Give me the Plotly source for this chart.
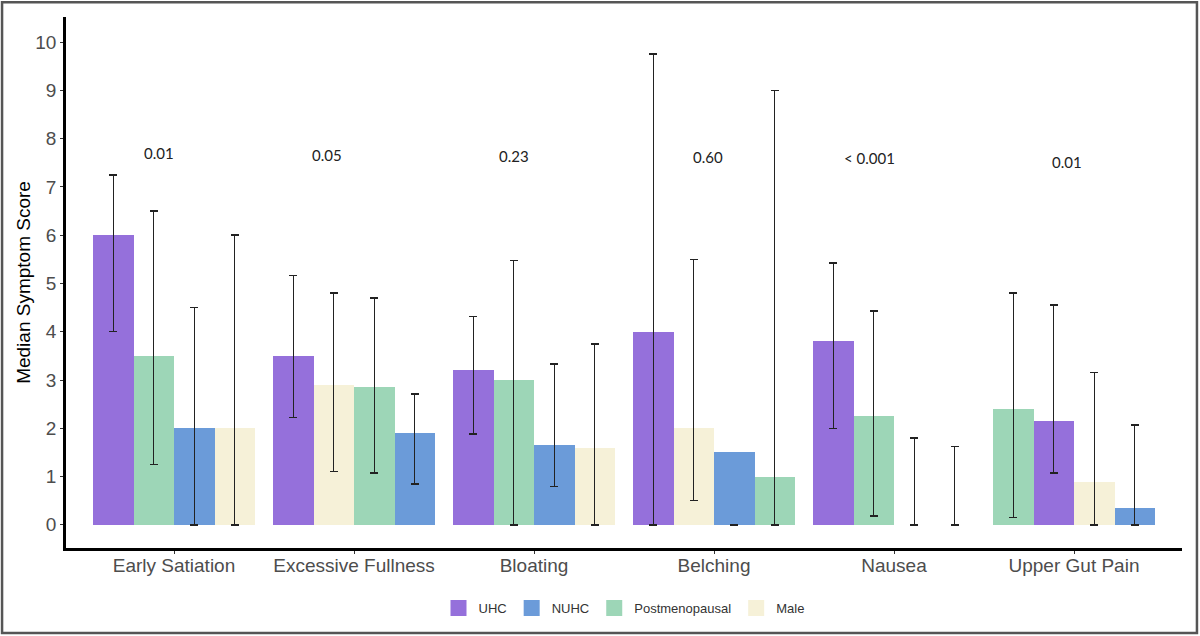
import plotly.graph_objects as go

categories = ["Early Satiation", "Excessive Fullness", "Bloating", "Belching", "Nausea", "Upper Gut Pain"]
series = ["UHC", "NUHC", "Postmenopausal", "Male"]

uhc_median = [6.0, 3.5, 3.2, 4.0, 3.8, 2.15]
uhc_low = [4.0, 2.22, 1.88, 0.0, 2.0, 1.07]
uhc_high = [7.25, 5.17, 4.32, 9.75, 5.42, 4.55]

nuhc_median = [2.0, 1.9, 1.65, 1.5, 0.0, 0.35]
nuhc_low = [0.0, 0.85, 0.8, 0.0, 0.0, 0.0]
nuhc_high = [4.5, 2.71, 3.33, 0.0, 1.8, 2.07]

post_median = [3.5, 2.85, 3.0, 1.0, 2.25, 2.4]
post_low = [1.25, 1.07, 0.0, 0.0, 0.18, 0.15]
post_high = [6.5, 4.7, 5.48, 9.0, 4.43, 4.8]

male_median = [2.0, 2.9, 1.6, 2.0, 0.0, 0.88]
male_low = [0.0, 1.1, 0.0, 0.5, 0.0, 0.0]
male_high = [6.0, 4.8, 3.75, 5.5, 1.62, 3.15]

p_values = ["0.01", "0.05", "0.23", "0.60", "< 0.001", "0.01"]

y_ticks = list(range(0, 11))

colors = {"UHC": "#9570db", "NUHC": "#6b9bd9", "Postmenopausal": "#9dd6b7", "Male": "#f6f1d8"}

medians = {"UHC": uhc_median, "NUHC": nuhc_median, "Postmenopausal": post_median, "Male": male_median}
lows = {"UHC": uhc_low, "NUHC": nuhc_low, "Postmenopausal": post_low, "Male": male_low}
highs = {"UHC": uhc_high, "NUHC": nuhc_high, "Postmenopausal": post_high, "Male": male_high}

# bars within each group are ordered by descending median (stable)
dodge = 0.9
n = len(series)
bw = dodge / n
positions = {s: [] for s in series}
for gi in range(len(categories)):
    order = sorted(range(n), key=lambda k: -medians[series[k]][gi])
    for rank, k in enumerate(order):
        positions[series[k]].append(gi + 1 + (rank - (n - 1) / 2) * bw)

fig = go.Figure()
for s in series:
    med = medians[s]
    fig.add_trace(go.Bar(
        x=positions[s], y=med, width=bw, name=s,
        marker=dict(color=colors[s], line=dict(width=0)),
        error_y=dict(type="data", symmetric=False,
                     array=[h - m for h, m in zip(highs[s], med)],
                     arrayminus=[m - l for m, l in zip(med, lows[s])],
                     color="#222222", thickness=1.4, width=4),
        showlegend=False,
    ))
for s in series:
    fig.add_trace(go.Scatter(
        x=[None], y=[None], mode="markers", name=s,
        marker=dict(symbol="square", size=20, color=colors[s]),
    ))

p_x_shift = [-15, -27, -20, -6, -25, -7]
p_y = [7.71, 7.66, 7.64, 7.62, 7.59, 7.51]
for gi, p in enumerate(p_values):
    fig.add_annotation(x=gi + 1, y=p_y[gi], text=p, showarrow=False,
                       xshift=p_x_shift[gi],
                       font=dict(family="Lato, Open Sans, sans-serif", size=15, color="#222222"))

fig.add_shape(type="rect", xref="paper", yref="paper",
              x0=-0.0573, x1=1.0134, y0=-0.160, y1=1.028,
              line=dict(color="#555555", width=2.5), fillcolor="rgba(0,0,0,0)")

fig.update_layout(
    width=1200, height=636,
    margin=dict(l=66, r=18, t=17, b=88),
    paper_bgcolor="white", plot_bgcolor="white",
    bargap=0,
    font=dict(family="Liberation Sans, Arial, sans-serif"),
    legend=dict(orientation="h", x=0.5, xanchor="center", y=-0.113, yanchor="middle",
                font=dict(size=13, color="#333333"), itemsizing="trace"),
    xaxis=dict(range=[0.4, 6.6], tickmode="array", tickvals=list(range(1, len(categories) + 1)),
               ticktext=categories, showgrid=False, zeroline=False,
               showline=True, linecolor="black", linewidth=2.5,
               ticks="outside", ticklen=3, tickcolor="#333333",
               ticklabelstandoff=-5,
               tickfont=dict(size=19, color="#4d4d4d")),
    yaxis=dict(range=[-0.48, 10.52], tickmode="array", tickvals=y_ticks,
               showgrid=False, zeroline=False,
               showline=True, linecolor="black", linewidth=2.5,
               ticks="outside", ticklen=3, tickcolor="#333333",
               tickfont=dict(size=19, color="#4d4d4d"),
               title=dict(text="Median Symptom Score", font=dict(size=19, color="black"), standoff=0)),
)

fig.write_html("out.html", config={"displayModeBar": False},
               post_script="document.body.style.margin='0';")
